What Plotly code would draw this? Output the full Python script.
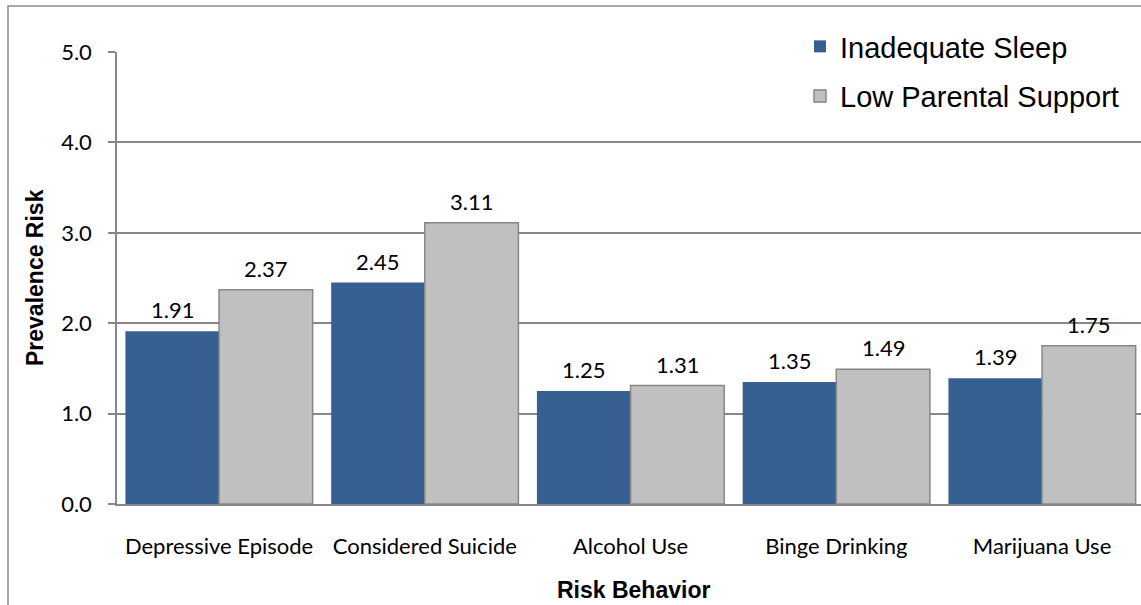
import plotly.graph_objects as go

# Prevalence risk by risk behavior
categories = ["Depressive Episode", "Considered Suicide", "Alcohol Use",
              "Binge Drinking", "Marijuana Use"]
inadequate_sleep = [1.91, 2.45, 1.25, 1.35, 1.39]
low_parental_support = [2.37, 3.11, 1.31, 1.49, 1.75]
y_ticks = [0, 1, 2, 3, 4, 5]

BLUE = "#376092"
GRAY = "#C0C0C0"
AXIS = "#878787"
TICK_FONT = "Lato, Carlito, Calibri, sans-serif"
ARIAL = "Liberation Sans, Arial, sans-serif"

W, H = 1141, 605
ML, MR, MT, MB = 117, 0, 52, 101
PW, PH = W - ML - MR, H - MT - MB
Y0 = H - MB  # pixel row of the x axis


def px_x(px):
    return (px - ML) / PW


def px_y(py):
    return (Y0 - py) / PH


fig = go.Figure()
fig.add_trace(go.Bar(
    name="Inadequate Sleep", x=categories, y=inadequate_sleep,
    marker=dict(color=BLUE, line=dict(color=BLUE, width=0)),
    legendgroup="sleep", offsetgroup="sleep",
))
fig.add_trace(go.Bar(
    name="Low Parental Support", x=categories, y=low_parental_support,
    marker=dict(color=GRAY, line=dict(color=AXIS, width=1.5)),
    legendgroup="parent", offsetgroup="parent",
))

# value labels above each bar
annotations = []
for i, (a, b) in enumerate(zip(inadequate_sleep, low_parental_support)):
    for off, v in ((-0.2275, a), (0.2275, b)):
        annotations.append(dict(
            x=i + off, y=v, xref="x", yref="y", text=f"{v:.2f}",
            showarrow=False, yanchor="bottom", yshift=6,
            font=dict(family=TICK_FONT, size=22, color="#000000"),
        ))

# axis titles
annotations.append(dict(
    x=px_x(633), y=px_y(590), xref="paper", yref="paper",
    text="<b>Risk Behavior</b>", showarrow=False,
    xanchor="center", yanchor="middle",
    font=dict(family=ARIAL, size=23, color="#000000"),
))
annotations.append(dict(
    x=px_x(35), y=px_y(278), xref="paper", yref="paper",
    text="<b>Prevalence Risk</b>", showarrow=False, textangle=-90,
    xanchor="center", yanchor="middle",
    font=dict(family=ARIAL, size=23, color="#000000"),
))

# outer chart frame
shapes = [dict(
    type="rect", xref="paper", yref="paper",
    x0=px_x(8), x1=1.5, y0=-1.0, y1=px_y(6),
    line=dict(color="#8C8C8C", width=1.5), fillcolor="rgba(0,0,0,0)",
    layer="below",
)]

fig.update_layout(
    width=W, height=H,
    margin=dict(l=ML, r=MR, t=MT, b=MB, pad=0),
    paper_bgcolor="white", plot_bgcolor="white",
    barmode="group", bargap=0.09, bargroupgap=0.0,
    annotations=annotations, shapes=shapes,
    legend=dict(
        x=px_x(800), y=px_y(21), xanchor="left", yanchor="top",
        bgcolor="white", borderwidth=0, tracegroupgap=9,
        font=dict(family=ARIAL, size=29, color="#000000"),
        itemwidth=30,
    ),
    xaxis=dict(
        range=[-0.496, 4.481], showline=True, linecolor=AXIS, linewidth=1.5,
        ticks="", showgrid=False, ticklabelstandoff=22,
        tickfont=dict(family=TICK_FONT, size=22, color="#000000"),
    ),
    yaxis=dict(
        range=[0, 5], tickvals=y_ticks, tickformat=".1f",
        showline=True, linecolor=AXIS, linewidth=1.5,
        ticks="outside", ticklen=7, tickcolor=AXIS, tickwidth=1.5,
        showgrid=True, gridcolor=AXIS, gridwidth=1.5,
        zeroline=False, ticklabelstandoff=12,
        tickfont=dict(family=TICK_FONT, size=22, color="#000000"),
    ),
    showlegend=True,
)

fig.write_html("out.html")
